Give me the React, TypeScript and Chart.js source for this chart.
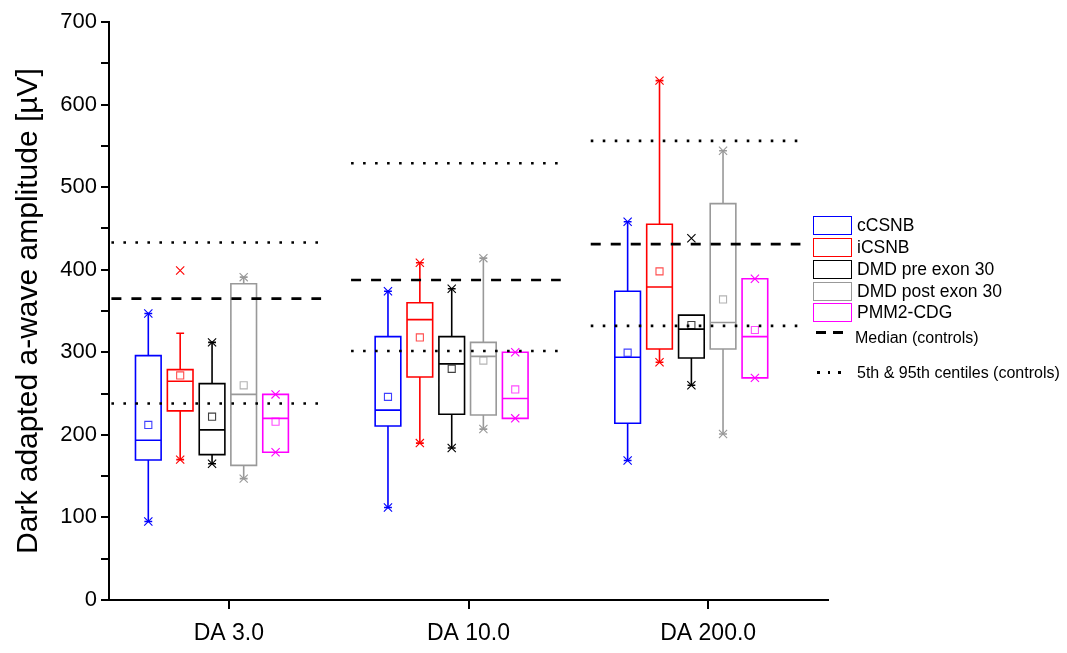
import React, { useEffect, useRef } from 'react';
import { Chart, registerables } from 'chart.js';

Chart.register(...registerables);

// ---------------- data ----------------
const categories = ['DA 3.0', 'DA 10.0', 'DA 200.0'];
const groups = ['cCSNB', 'iCSNB', 'DMD pre exon 30', 'DMD post exon 30', 'PMM2-CDG'];

// per group (rows) x per category (columns)
const q1 = [
  [169.5, 210.7, 214],
  [229, 270, 304],
  [176, 225, 293],
  [163, 224, 304],
  [179, 220, 269],
];
const median = [
  [193.4, 230, 294],
  [265, 339.5, 379],
  [206, 286, 328],
  [249, 295, 336],
  [220, 244, 319],
];
const q3 = [
  [296, 319, 374],
  [279, 360, 455],
  [262, 319, 345],
  [383, 312, 480],
  [249, 300, 389],
];
const whiskerLow = [
  [95, 112, 169],
  [170, 190, 288],
  [165, 184, 260],
  [147, 207, 201],
  [179, 220, 269],
];
const whiskerHigh = [
  [347, 374, 458],
  [323, 408.5, 629],
  [312, 377, 345],
  [391, 414, 544],
  [249, 300, 389],
];
const mean = [
  [212, 246, 299.5],
  [272, 318, 398],
  [222, 280, 333],
  [260, 290, 364],
  [216, 255, 327],
];
const minimum = [
  [95, 112, 169],
  [170, 190, 288],
  [165, 184, 260],
  [147, 207, 201],
  [179, 220, 269],
];
const maximum = [
  [347, 374, 458],
  [399, 408.5, 629],
  [312, 377, 438],
  [391, 414, 544],
  [249, 300, 389],
];

// controls
const controlMedian = [365, 387.5, 431];
const controlP5 = [238, 301.5, 332];
const controlP95 = [433, 529, 556];

const yTicks = [0, 100, 200, 300, 400, 500, 600, 700];

// ---------------- styles / layout ----------------
const colors = ['#0000ff', '#ff0000', '#000000', '#999999', '#ff00ff'];
const meanColors = ['rgba(0,0,255,0.75)', 'rgba(255,0,0,0.7)', 'rgba(0,0,0,0.75)', 'rgba(153,153,153,0.75)', 'rgba(255,0,255,0.7)'];
const boxOffsets = [-0.336, -0.203, -0.07, 0.062, 0.195];
const BOX_W = 0.107;
const CAP = 0.013;
const REF_L = -0.49;
const REF_R = 0.385;
const FONT = "'Liberation Sans', Arial, sans-serif";

export default function App() {
  const ref = useRef<HTMLCanvasElement>(null);

  useEffect(() => {
    if (!ref.current) return;
    const datasets: any[] = [];

    // reference lines
    const medPts: any[] = [];
    const pctPts: any[] = [];
    categories.forEach((_, ci) => {
      const xl = ci + 1 + REF_L;
      const xr = ci + 1 + REF_R;
      medPts.push({ x: xl, y: controlMedian[ci] }, { x: xr, y: controlMedian[ci] }, { x: xr, y: null });
      pctPts.push({ x: xl, y: controlP95[ci] }, { x: xr, y: controlP95[ci] }, { x: xr, y: null });
      pctPts.push({ x: xl, y: controlP5[ci] }, { x: xr, y: controlP5[ci] }, { x: xr, y: null });
    });
    datasets.push({
      type: 'line', label: 'Median (controls)', data: medPts, borderColor: '#000', borderWidth: 2.6,
      borderDash: [10, 10], pointRadius: 0, spanGaps: false, fill: false, tension: 0, borderCapStyle: 'butt',
    });
    datasets.push({
      type: 'line', label: '5th & 95th centiles (controls)', data: pctPts, borderColor: '#000', borderWidth: 2.6,
      borderDash: [2.6, 9.4], pointRadius: 0, spanGaps: false, fill: false, tension: 0, borderCapStyle: 'butt',
    });

    groups.forEach((g, gi) => {
      const pts: any[] = [];
      const brk = (x: number) => pts.push({ x, y: null });
      const means: any[] = [];
      const marks: any[] = [];
      categories.forEach((_, ci) => {
        const xc = ci + 1 + boxOffsets[gi];
        const xl = xc - BOX_W / 2;
        const xr = xc + BOX_W / 2;
        const a = q1[gi][ci];
        const b = q3[gi][ci];
        const m = median[gi][ci];
        pts.push({ x: xl, y: a }, { x: xr, y: a }, { x: xr, y: b }, { x: xl, y: b }, { x: xl, y: a });
        brk(xl);
        pts.push({ x: xl, y: m }, { x: xr, y: m });
        brk(xr);
        const lo = whiskerLow[gi][ci];
        const hi = whiskerHigh[gi][ci];
        if (lo < a) {
          pts.push({ x: xc, y: a }, { x: xc, y: lo });
          brk(xc);
          pts.push({ x: xc - CAP, y: lo }, { x: xc + CAP, y: lo });
          brk(xc);
        }
        if (hi > b) {
          pts.push({ x: xc, y: b }, { x: xc, y: hi });
          brk(xc);
          pts.push({ x: xc - CAP, y: hi }, { x: xc + CAP, y: hi });
          brk(xc);
        }
        means.push({ x: xc, y: mean[gi][ci] });
        marks.push({ x: xc, y: minimum[gi][ci] }, { x: xc, y: maximum[gi][ci] });
      });
      datasets.push({
        type: 'line', label: g, data: pts, borderColor: colors[gi], borderWidth: 1.6, pointRadius: 0,
        spanGaps: false, fill: false, tension: 0, borderCapStyle: 'square', borderJoinStyle: 'miter',
      });
      datasets.push({
        type: 'scatter', label: g + ' mean', data: means, pointStyle: 'rect', pointRadius: 5,
        borderColor: meanColors[gi], backgroundColor: 'rgba(0,0,0,0)', borderWidth: 1.1,
      });
      datasets.push({
        type: 'scatter', label: g + ' min/max', data: marks, pointStyle: 'crossRot', pointRadius: 5.8,
        borderColor: colors[gi], backgroundColor: colors[gi], borderWidth: 1.1,
      });
    });

    Chart.defaults.font.family = FONT;
    Chart.defaults.color = '#000';

    const chart = new Chart(ref.current, {
      type: 'scatter',
      data: { datasets },
      options: {
        animation: false,
        responsive: false,
        maintainAspectRatio: false,
        devicePixelRatio: 1,
        layout: { padding: { left: 10, right: 239, top: 22, bottom: 0 } },
        plugins: { legend: { display: false }, tooltip: { enabled: false } },
        scales: {
          x: {
            type: 'linear',
            min: 0.5,
            max: 3.5,
            afterBuildTicks: (s: any) => {
              s.ticks = categories.map((_, i) => ({ value: i + 1 }));
            },
            afterFit: (s: any) => {
              s.height = 53;
            },
            ticks: {
              callback: (v: any) => categories[Math.round(v) - 1] ?? '',
              font: { family: FONT, size: 23 },
              color: '#000',
              padding: 11,
              maxRotation: 0,
              autoSkip: false,
            },
            grid: { display: true, drawOnChartArea: false, drawTicks: true, tickLength: 9, color: '#000', lineWidth: 2 },
            border: { display: true, color: '#000', width: 2 },
          },
          y: {
            type: 'linear',
            min: 0,
            max: 700,
            afterBuildTicks: (s: any) => {
              const t: any[] = [];
              yTicks.forEach((v, i) => {
                t.push({ value: v });
                if (i < yTicks.length - 1) t.push({ value: (v + yTicks[i + 1]) / 2 });
              });
              s.ticks = t;
            },
            afterFit: (s: any) => {
              s.width = 99;
            },
            ticks: {
              callback: (v: any) => (yTicks.includes(v) ? String(v) : ''),
              font: { family: FONT, size: 22 },
              color: '#000',
              padding: 4,
              autoSkip: false,
            },
            grid: { display: true, drawOnChartArea: false, drawTicks: true, tickLength: 8, color: '#000', lineWidth: 2 },
            border: { display: true, color: '#000', width: 2 },
            title: {
              display: true,
              text: 'Dark adapted a-wave amplitude [µV]',
              font: { family: FONT, size: 30 },
              color: '#000',
              padding: { top: 1, bottom: 0 },
            },
          },
        },
      } as any,
    });
    return () => chart.destroy();
  }, []);

  const legendTop = [216, 238, 260, 282, 303];

  return (
    <div style={{ position: 'absolute', left: 0, top: 0, width: 1067, height: 653, background: '#fff', fontFamily: FONT }}>
      <canvas ref={ref} width={1067} height={653} style={{ position: 'absolute', left: 0, top: 0, width: 1067, height: 653 }} />
      {groups.map((g, gi) => (
        <React.Fragment key={g}>
          <div
            style={{
              position: 'absolute', left: 813, top: legendTop[gi], width: 39, height: 19, boxSizing: 'border-box',
              border: `1.6px solid ${colors[gi]}`, background: '#fff',
            }}
          />
          <div
            style={{
              position: 'absolute', left: 857, top: legendTop[gi] - 1, height: 21, lineHeight: '21px',
              fontSize: 17.5, color: '#000', whiteSpace: 'nowrap',
            }}
          >
            {g}
          </div>
        </React.Fragment>
      ))}
      <div style={{ position: 'absolute', left: 816, top: 331, width: 10, height: 2.6, background: '#000' }} />
      <div style={{ position: 'absolute', left: 833, top: 331, width: 10, height: 2.6, background: '#000' }} />
      <div style={{ position: 'absolute', left: 855, top: 327, height: 21, lineHeight: '21px', fontSize: 16, whiteSpace: 'nowrap', color: '#000' }}>
        Median (controls)
      </div>
      {[817, 827.5, 838].map((x) => (
        <div key={x} style={{ position: 'absolute', left: x, top: 371, width: 2.6, height: 2.6, background: '#000' }} />
      ))}
      <div style={{ position: 'absolute', left: 857, top: 362, height: 21, lineHeight: '21px', fontSize: 16, whiteSpace: 'nowrap', color: '#000' }}>
        5th &amp; 95th centiles (controls)
      </div>
    </div>
  );
}
